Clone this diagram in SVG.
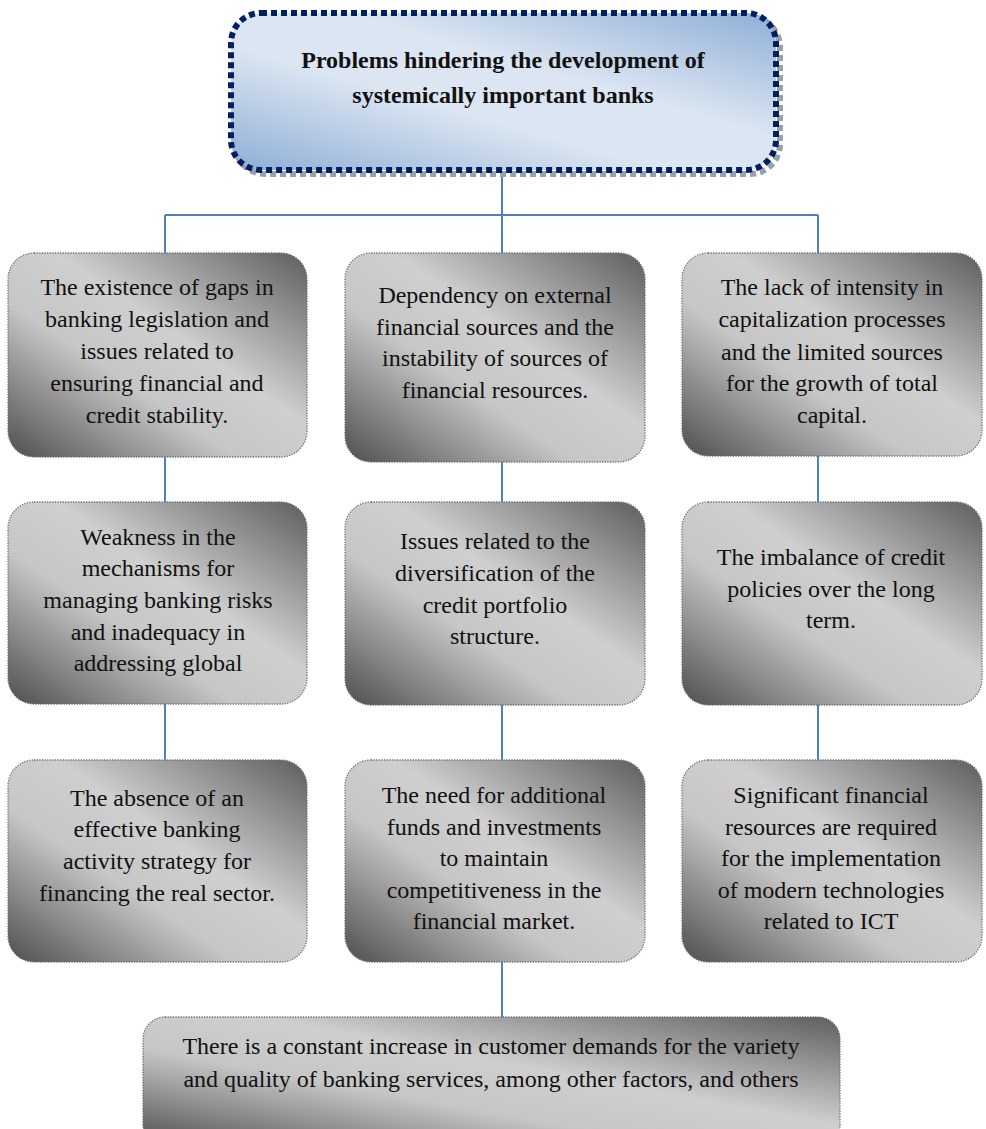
<svg xmlns="http://www.w3.org/2000/svg" width="986" height="1129" viewBox="0 0 986 1129">
<defs>
<linearGradient id="gg" x1="1" y1="0" x2="0" y2="1">
<stop offset="0" stop-color="#5e5e5e"/>
<stop offset="0.42" stop-color="#cfcfcf"/>
<stop offset="0.62" stop-color="#c6c6c6"/>
<stop offset="1" stop-color="#4e4e4e"/>
</linearGradient>
<linearGradient id="bg" x1="1" y1="0" x2="0" y2="1">
<stop offset="0" stop-color="#8eaed6"/>
<stop offset="0.4" stop-color="#dce6f2"/>
<stop offset="0.6" stop-color="#dce6f2"/>
<stop offset="1" stop-color="#8eaed6"/>
</linearGradient>
</defs>
<style>
.box{fill:url(#gg);stroke:#6f6f6f;stroke-width:1.3;stroke-dasharray:1.3 1.3}
.t{font-family:"Liberation Serif","Times New Roman",serif;font-size:24px;fill:#111;text-anchor:middle}
.h{font-family:"Liberation Serif","Times New Roman",serif;font-size:24px;font-weight:bold;fill:#111;text-anchor:middle}
.c{stroke:#4f81bd;stroke-width:2;fill:none}
</style>
<rect width="986" height="1129" fill="#ffffff"/>
<g id="connectors">
<path class="c" d="M502 172V215M165 215H818M165 215V253M502 215V253M818 215V253"/>
<path class="c" d="M165 457V502M502 462V502M818 456V502"/>
<path class="c" d="M165 704V760M502 705V760M818 705V760"/>
<path class="c" d="M502 962V1017"/>
</g>
<g id="title">
<rect x="235" y="17" width="545" height="157" rx="30" fill="none" stroke="#98a0ad" stroke-width="6" stroke-dasharray="6 4"/>
<rect x="231" y="13" width="545" height="157" rx="30" fill="url(#bg)" stroke="#002060" stroke-width="6" stroke-dasharray="6 4"/>
<text class="h" x="503" y="68">Problems hindering the development of</text>
<text class="h" x="503" y="103">systemically important banks</text>
</g>
<g id="n11">
<rect class="box" x="8" y="253" width="299" height="204" rx="26"/>
<text class="t" x="157" y="295">The existence of gaps in</text>
<text class="t" x="157" y="327">banking legislation and</text>
<text class="t" x="157" y="359">issues related to</text>
<text class="t" x="157" y="391">ensuring financial and</text>
<text class="t" x="157" y="423">credit stability.</text>
</g>
<g id="n12">
<rect class="box" x="345" y="253" width="300" height="209" rx="26"/>
<text class="t" x="495" y="303">Dependency on external</text>
<text class="t" x="495" y="335">financial sources and the</text>
<text class="t" x="495" y="366">instability of sources of</text>
<text class="t" x="495" y="398">financial resources.</text>
</g>
<g id="n13">
<rect class="box" x="682" y="253" width="300" height="203" rx="26"/>
<text class="t" x="832" y="295">The lack of intensity in</text>
<text class="t" x="832" y="327">capitalization processes</text>
<text class="t" x="832" y="360">and the limited sources</text>
<text class="t" x="832" y="391">for the growth of total</text>
<text class="t" x="832" y="423">capital.</text>
</g>
<g id="n21">
<rect class="box" x="8" y="502" width="299" height="202" rx="26"/>
<text class="t" x="158" y="545">Weakness in the</text>
<text class="t" x="158" y="576">mechanisms for</text>
<text class="t" x="158" y="608">managing banking risks</text>
<text class="t" x="158" y="640">and inadequacy in</text>
<text class="t" x="158" y="671">addressing global</text>
</g>
<g id="n22">
<rect class="box" x="345" y="502" width="300" height="203" rx="26"/>
<text class="t" x="495" y="549">Issues related to the</text>
<text class="t" x="495" y="581">diversification of the</text>
<text class="t" x="495" y="613">credit portfolio</text>
<text class="t" x="495" y="644">structure.</text>
</g>
<g id="n23">
<rect class="box" x="682" y="502" width="300" height="203" rx="26"/>
<text class="t" x="831" y="565">The imbalance of credit</text>
<text class="t" x="831" y="597">policies over the long</text>
<text class="t" x="831" y="628">term.</text>
</g>
<g id="n31">
<rect class="box" x="8" y="760" width="299" height="202" rx="26"/>
<text class="t" x="157" y="806">The absence of an</text>
<text class="t" x="157" y="837">effective banking</text>
<text class="t" x="157" y="869">activity strategy for</text>
<text class="t" x="157" y="901">financing the real sector.</text>
</g>
<g id="n32">
<rect class="box" x="345" y="760" width="300" height="202" rx="26"/>
<text class="t" x="494" y="803">The need for additional</text>
<text class="t" x="494" y="835">funds and investments</text>
<text class="t" x="494" y="866">to maintain</text>
<text class="t" x="494" y="898">competitiveness in the</text>
<text class="t" x="494" y="929">financial market.</text>
</g>
<g id="n33">
<rect class="box" x="682" y="760" width="300" height="202" rx="26"/>
<text class="t" x="831" y="803">Significant financial</text>
<text class="t" x="831" y="835">resources are required</text>
<text class="t" x="831" y="866">for the implementation</text>
<text class="t" x="831" y="898">of modern technologies</text>
<text class="t" x="831" y="929">related to ICT</text>
</g>
<g id="n4">
<rect class="box" x="143" y="1017" width="697" height="130" rx="22"/>
<text class="t" x="491" y="1054">There is a constant increase in customer demands for the variety</text>
<text class="t" x="491" y="1087">and quality of banking services, among other factors, and others</text>
</g>
</svg>
